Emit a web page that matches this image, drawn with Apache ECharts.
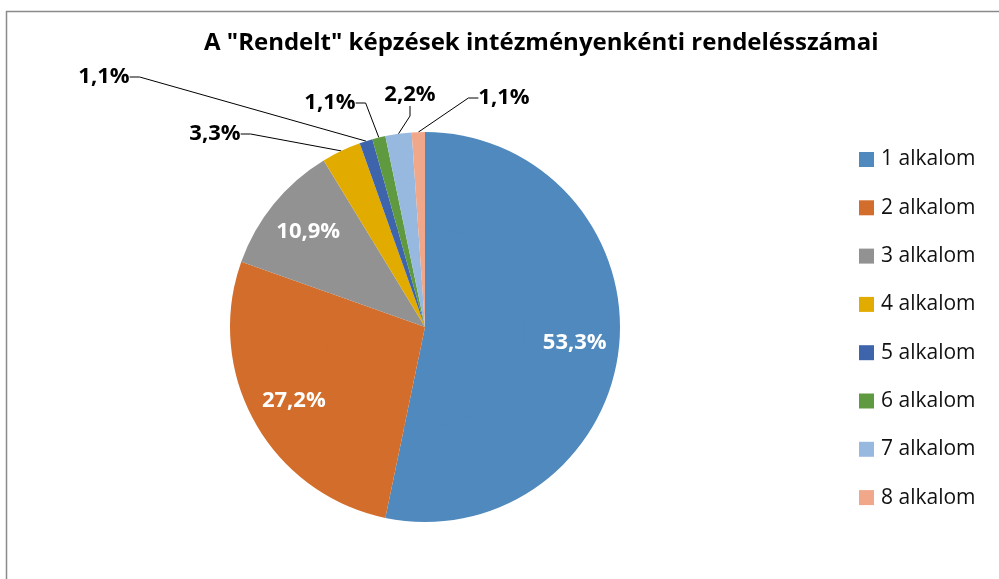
<!DOCTYPE html>
<html>
<head>
<meta charset="utf-8">
<script src="https://cdn.jsdelivr.net/npm/echarts@6/dist/echarts.min.js"></script>
<style>
  html, body { margin: 0; padding: 0; background: #fff; }
  #chart { width: 999px; height: 579px; }
</style>
</head>
<body>
<div id="chart"></div>
<script>
const categories = ['1 alkalom', '2 alkalom', '3 alkalom', '4 alkalom', '5 alkalom', '6 alkalom', '7 alkalom', '8 alkalom'];
const counts = [49, 25, 10, 3, 1, 1, 2, 1];
const colors = ['#4f89bd', '#d36d2b', '#929292', '#e2ab00', '#3e64ac', '#5f9a40', '#98b9df', '#f0a78a'];

// where the small outside labels sit (text centre), by slice index
const outsideLabelPos = { 3: [215, 134], 4: [104, 77], 5: [330, 103], 6: [410, 95], 7: [504, 98] };

const total = counts.reduce((a, b) => a + b, 0);
const fmt = (v) => (v / total * 100).toFixed(1).replace('.', ',') + '%';

const pieData = categories.map((name, i) => {
    const inside = counts[i] / total >= 0.05;
    return {
        name: name,
        value: counts[i],
        label: {
            position: inside ? 'inside' : 'outside',
            color: inside ? '#fff' : '#000'
        },
        labelLine: { show: !inside }
    };
});

const chart = echarts.init(document.getElementById('chart'));

const option = {
    color: colors,
    animation: false,
    title: {
        text: 'A "Rendelt" képzések intézményenkénti rendelésszámai',
        left: 204,
        top: 31,
        padding: 0,
        textStyle: { fontFamily: 'Open Sans', fontWeight: 'bold', fontSize: 24, color: '#000' }
    },
    legend: {
        orient: 'vertical',
        left: 859,
        top: 149,
        padding: 0,
        icon: 'rect',
        itemWidth: 15,
        itemHeight: 15,
        itemGap: 27.3,
        textStyle: { fontFamily: 'Open Sans', fontSize: 21, color: '#111', padding: [0, 0, 0, 2] },
        data: categories
    },
    graphic: [{
        type: 'rect',
        z: -10,
        shape: { x: 6.5, y: 11.5, width: 1100, height: 700 },
        style: { fill: 'none', stroke: '#8a8a8a', lineWidth: 1.5 }
    }],
    series: [
        {
            // filled disc under the label ring
            type: 'pie',
            center: [425, 327],
            radius: [0, 102],
            startAngle: 90,
            silent: true,
            label: { show: false },
            labelLine: { show: false },
            data: categories.map((name, i) => ({ name: name, value: counts[i] }))
        },
        {
            type: 'pie',
            center: [425, 327],
            radius: [100, 195],
            startAngle: 90,
            avoidLabelOverlap: false,
            label: {
                fontFamily: 'Open Sans',
                fontWeight: 'bold',
                fontSize: 22,
                formatter: (p) => fmt(p.value)
            },
            labelLine: {
                lineStyle: { color: '#000', width: 1 },
                length: 10,
                length2: 10
            },
            labelLayout: (params) => {
                const pos = outsideLabelPos[params.dataIndex];
                if (!pos) return {};
                return { x: pos[0], y: pos[1], align: 'center', verticalAlign: 'middle' };
            },
            data: pieData
        }
    ]
};

chart.setOption(option);
</script>
</body>
</html>
